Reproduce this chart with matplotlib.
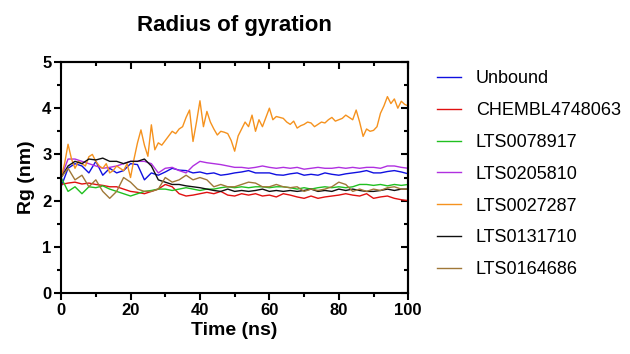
import matplotlib.pyplot as plt
import numpy as np

plt.rcParams['font.family'] = ['Liberation Sans', 'DejaVu Sans']

# time axis (ns), read every 2 ns
t = np.arange(0, 101, 2)
# orange trace read every 1 ns
t_fine = np.arange(0, 101, 1)

unbound = [2.30, 2.70, 2.80, 2.75, 2.60, 2.85, 2.55, 2.70, 2.60, 2.65, 2.80, 2.78, 2.45,
           2.60, 2.55, 2.62, 2.70, 2.66, 2.65, 2.60, 2.62, 2.58, 2.60, 2.55, 2.57, 2.60,
           2.62, 2.65, 2.60, 2.60, 2.60, 2.56, 2.55, 2.58, 2.60, 2.55, 2.57, 2.55, 2.60,
           2.57, 2.55, 2.58, 2.60, 2.62, 2.65, 2.60, 2.60, 2.63, 2.65, 2.62, 2.58]
chembl = [2.35, 2.38, 2.40, 2.36, 2.38, 2.35, 2.33, 2.30, 2.30, 2.25, 2.20, 2.18, 2.15,
          2.20, 2.25, 2.35, 2.30, 2.15, 2.10, 2.12, 2.15, 2.18, 2.15, 2.20, 2.12, 2.10,
          2.15, 2.12, 2.15, 2.10, 2.12, 2.08, 2.15, 2.12, 2.08, 2.05, 2.10, 2.05, 2.08,
          2.10, 2.12, 2.15, 2.12, 2.10, 2.15, 2.05, 2.08, 2.10, 2.05, 2.02, 2.00]
lts0078917 = [2.50, 2.20, 2.30, 2.15, 2.30, 2.28, 2.32, 2.25, 2.20, 2.15, 2.10, 2.15, 2.20,
              2.22, 2.25, 2.25, 2.22, 2.25, 2.28, 2.25, 2.22, 2.25, 2.25, 2.28, 2.30, 2.28,
              2.30, 2.28, 2.30, 2.30, 2.28, 2.30, 2.30, 2.28, 2.25, 2.28, 2.25, 2.28, 2.30,
              2.28, 2.30, 2.28, 2.30, 2.35, 2.35, 2.33, 2.35, 2.32, 2.35, 2.33, 2.35]
lts0205810 = [2.50, 2.90, 2.90, 2.85, 2.80, 2.75, 2.70, 2.72, 2.75, 2.80, 2.85, 2.85, 2.85,
              2.80, 2.60, 2.70, 2.72, 2.65, 2.60, 2.75, 2.85, 2.82, 2.80, 2.78, 2.75, 2.72,
              2.72, 2.70, 2.72, 2.75, 2.72, 2.70, 2.72, 2.70, 2.72, 2.68, 2.70, 2.72, 2.70,
              2.70, 2.72, 2.70, 2.72, 2.70, 2.72, 2.72, 2.70, 2.75, 2.75, 2.72, 2.70]
lts0027287 = [2.50, 2.80, 3.22, 2.90, 2.70, 2.85, 2.80, 2.75, 2.95, 3.00, 2.85, 2.75, 2.70,
              2.80, 2.60, 2.65, 2.75, 2.70, 2.65, 2.80, 2.50, 2.90, 3.25, 3.53, 3.20, 2.96,
              3.64, 3.10, 3.25, 3.20, 3.30, 3.40, 3.50, 3.45, 3.55, 3.60, 3.80, 3.96, 3.28,
              3.70, 4.16, 3.60, 3.93, 3.70, 3.55, 3.42, 3.50, 3.48, 3.45, 3.30, 3.07, 3.40,
              3.55, 3.70, 3.60, 3.85, 3.50, 3.75, 3.60, 3.80, 4.00, 3.75, 3.82, 3.80, 3.78,
              3.70, 3.65, 3.72, 3.57, 3.62, 3.65, 3.70, 3.68, 3.60, 3.65, 3.70, 3.68, 3.75,
              3.80, 3.72, 3.75, 3.78, 3.85, 3.80, 3.75, 3.96, 3.70, 3.39, 3.55, 3.50, 3.52,
              3.60, 3.89, 4.05, 4.25, 4.10, 4.20, 4.00, 4.15, 4.08, 4.05]
lts0131710 = [2.50, 2.75, 2.85, 2.80, 2.90, 2.88, 2.92, 2.85, 2.85, 2.80, 2.85, 2.85, 2.90,
              2.75, 2.45, 2.40, 2.35, 2.35, 2.32, 2.30, 2.28, 2.25, 2.22, 2.20, 2.25, 2.20,
              2.22, 2.20, 2.22, 2.25, 2.20, 2.22, 2.20, 2.22, 2.20, 2.22, 2.25, 2.20, 2.22,
              2.20, 2.25, 2.22, 2.25, 2.22, 2.20, 2.20, 2.22, 2.25, 2.22, 2.25, 2.25]
lts0164686 = [2.50, 2.70, 2.45, 2.55, 2.30, 2.45, 2.20, 2.05, 2.20, 2.50, 2.40, 2.25, 2.20,
              2.20, 2.25, 2.50, 2.40, 2.45, 2.55, 2.45, 2.50, 2.45, 2.30, 2.35, 2.30, 2.30,
              2.35, 2.40, 2.38, 2.30, 2.30, 2.35, 2.30, 2.28, 2.30, 2.20, 2.25, 2.22, 2.25,
              2.30, 2.40, 2.35, 2.20, 2.25, 2.20, 2.25, 2.22, 2.28, 2.30, 2.25, 2.25]

labels = ['Unbound', 'CHEMBL4748063', 'LTS0078917', 'LTS0205810',
          'LTS0027287', 'LTS0131710', 'LTS0164686']
colors = ['#1010e0', '#e01010', '#20c020', '#b030e0', '#f5921e', '#101010', '#a07838']
series = [(t, unbound), (t, chembl), (t, lts0078917), (t, lts0205810),
          (t_fine, lts0027287), (t, lts0131710), (t, lts0164686)]

fig = plt.figure(figsize=(6.3, 3.54), dpi=100)
ax = fig.add_axes([0.097, 0.172, 0.551, 0.653])

for (x, y), lab, c in zip(series, labels, colors):
    ax.plot(x, y, color=c, lw=1.0, label=lab)

ax.set_xlim(0, 100)
ax.set_ylim(0, 5)
xmaj, xmin = np.arange(0, 101, 20), np.arange(10, 100, 20)
ymaj, ymin = np.arange(0, 6, 1), np.arange(0.5, 5, 1)
ax.set_xticks(xmaj)
ax.set_xticks(xmin, minor=True)
ax.set_yticks(ymaj)
ax.set_yticks(ymin, minor=True)

for sp in ax.spines.values():
    sp.set_linewidth(1.5)
ax.tick_params(which='both', width=1.5, labelsize=12, pad=2)
ax.tick_params(which='major', length=5)
ax.tick_params(which='minor', length=3)
for lab in ax.get_xticklabels() + ax.get_yticklabels():
    lab.set_fontweight('bold')

# inward ticks on top and right
top = ax.secondary_xaxis('top')
top.set_xticks(xmaj, labels=[])
top.set_xticks(xmin, minor=True)
right = ax.secondary_yaxis('right')
right.set_yticks(ymaj, labels=[])
right.set_yticks(ymin, minor=True)
for sec in (top, right):
    sec.tick_params(which='both', direction='in', width=1.5)
    sec.tick_params(which='major', length=5)
    sec.tick_params(which='minor', length=3)
    for sp in sec.spines.values():
        sp.set_linewidth(1.5)

ax.set_xlabel('Time (ns)', fontsize=14, fontweight='bold', labelpad=3)
ax.set_ylabel('Rg (nm)', fontsize=14, fontweight='bold', labelpad=5)
ax.set_title('Radius of gyration', fontsize=16, fontweight='bold', pad=22)

leg = ax.legend(loc='upper left', bbox_to_anchor=(1.036, 1.034), frameon=False,
                fontsize=13, handlelength=1.35, labelspacing=0.82, handletextpad=0.8)

fig.savefig('out.png', dpi=100)
